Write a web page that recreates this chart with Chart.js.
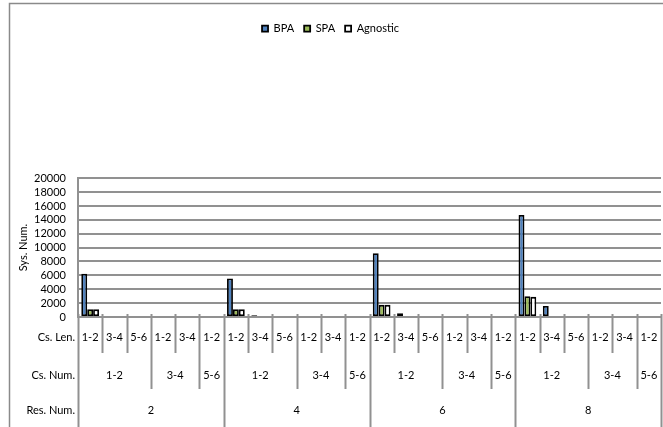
<!DOCTYPE html>
<html>
<head>
<meta charset="utf-8">
<script src="https://cdn.jsdelivr.net/npm/chart.js@4.4.1/dist/chart.umd.min.js"></script>
<style>
  body { margin: 0; background: #fff; }
  #wrap { width: 663px; height: 427px; }
</style>
</head>
<body>
<div id="wrap"><canvas id="myChart" width="663" height="427"></canvas></div>
<script>
// Category levels (innermost to outermost)
const resNums = ['2', '4', '6', '8'];
const csNumGroups = [['1-2', 3], ['3-4', 2], ['5-6', 1]]; // label, number of Cs. Len. entries
const csLens = ['1-2', '3-4', '5-6', '1-2', '3-4', '1-2'];

// Series values
const bpa = [6250, 150, 30, 20, 0, 0, 5550, 250, 30, 20, 0, 0, 9200, 530, 40, 0, 0, 0, 14700, 1600, 100, 0, 0, 0];
const spa = [1100, 40, 20, 10, 0, 0, 1100, 50, 20, 10, 0, 0, 1750, 100, 20, 0, 0, 0, 3000, 50, 30, 0, 0, 0];
const agnostic = [1100, 40, 20, 10, 0, 0, 1100, 50, 20, 10, 0, 0, 1750, 100, 20, 0, 0, 0, 2900, 50, 30, 0, 0, 0];

const yTicks = [0, 2000, 4000, 6000, 8000, 10000, 12000, 14000, 16000, 18000, 20000];

const labels = [];
resNums.forEach(() => csLens.forEach(l => labels.push(l)));

const FONT = 'Lato';
const gridGray = '#919191';

Chart.defaults.font.family = FONT;
Chart.defaults.font.size = 11;
Chart.defaults.color = '#000';

// draws the outer frame and the three-row category axis under the plot
const groupAxis = {
    id: 'groupAxis',
    afterDraw(chart) {
        const ctx = chart.ctx;
        const x = chart.scales.x;
        const area = chart.chartArea;
        const n = labels.length;
        const step = (area.right - area.left) / n;
        const perRes = csLens.length;
        const bottom = area.bottom;

        ctx.save();
        // outer frame
        ctx.strokeStyle = '#8a8a8a';
        ctx.lineWidth = 1.5;
        ctx.strokeRect(9.5, 3.5, 720, 500);

        // x axis line
        ctx.strokeStyle = gridGray;
        ctx.lineWidth = 2;
        ctx.beginPath();
        ctx.moveTo(area.left, bottom);
        ctx.lineTo(area.right, bottom);
        ctx.stroke();

        // group boundaries inside one Res. Num. block
        const numBounds = [0];
        let acc = 0;
        csNumGroups.forEach(g => { acc += g[1]; numBounds.push(acc); });

        for (let i = 0; i <= n; i++) {
            const px = Math.round(x.getPixelForValue(i) - step / 2) + 0.5;
            const k = i % perRes;
            let end = bottom + 36;
            if (numBounds.includes(k)) end = bottom + 72;
            if (k === 0) end = 427;
            ctx.beginPath();
            ctx.moveTo(px, bottom - 3);
            ctx.lineTo(px, end);
            ctx.stroke();
        }

        ctx.fillStyle = '#000';
        ctx.font = '11px ' + FONT;
        ctx.textAlign = 'center';
        ctx.textBaseline = 'middle';

        // Cs. Len. row
        labels.forEach((l, i) => {
            ctx.fillText(l, x.getPixelForValue(i), bottom + 20);
        });
        // Cs. Num. row
        resNums.forEach((r, ri) => {
            let start = ri * perRes;
            csNumGroups.forEach(g => {
                const a = x.getPixelForValue(start) - step / 2;
                const b = x.getPixelForValue(start + g[1] - 1) + step / 2;
                ctx.fillText(g[0], (a + b) / 2, bottom + 58);
                start += g[1];
            });
            const a = x.getPixelForValue(ri * perRes) - step / 2;
            const b = x.getPixelForValue(ri * perRes + perRes - 1) + step / 2;
            ctx.fillText(r, (a + b) / 2, bottom + 93);
        });

        // row titles
        ctx.textAlign = 'right';
        ctx.fillText('Cs. Len.', area.left - 3, bottom + 20);
        ctx.fillText('Cs. Num.', area.left - 3, bottom + 58);
        ctx.fillText('Res. Num.', area.left - 3, bottom + 93);
        ctx.restore();
    }
};

const ctx = document.getElementById('myChart').getContext('2d');

const barStyle = {
    borderColor: '#000',
    borderWidth: 1.8,
    borderSkipped: false,
    categoryPercentage: 0.73,
    barPercentage: 1
};

const myChart = new Chart(ctx, {
    type: 'bar',
    data: {
        labels: labels,
        datasets: [
            { label: 'BPA', data: bpa, backgroundColor: '#4F81BD', ...barStyle },
            { label: 'SPA', data: spa, backgroundColor: '#9BBB59', ...barStyle },
            { label: 'Agnostic', data: agnostic, backgroundColor: '#FFFFFF', ...barStyle }
        ]
    },
    plugins: [groupAxis],
    options: {
        responsive: false,
        animation: false,
        layout: { padding: { left: 0, right: 2, top: 0, bottom: 110 } },
        plugins: {
            legend: {
                display: true,
                position: 'top',
                // blank title only pushes the legend row down
                title: { display: true, text: ' ', padding: 0, font: { size: 11 } },
                labels: {
                    boxWidth: 6,
                    boxHeight: 6,
                    padding: 10,
                    color: '#000',
                    font: { size: 11, family: FONT }
                }
            },
            tooltip: { enabled: false }
        },
        scales: {
            x: {
                display: false
            },
            xTop: {
                // empty spacer between the legend and the plot
                type: 'category',
                position: 'top',
                display: true,
                grid: { display: false, drawTicks: false },
                border: { display: false },
                ticks: { display: false },
                afterFit: s => { s.height = 134; }
            },
            y: {
                min: 0,
                max: 20000,
                afterFit: s => { s.width = 78; },
                afterBuildTicks: s => { s.ticks = yTicks.map(v => ({ value: v })); },
                ticks: {
                    autoSkip: false,
                    padding: 12,
                    font: { size: 11, family: FONT },
                    color: '#000',
                    callback: v => String(v)
                },
                grid: {
                    color: gridGray,
                    lineWidth: 2,
                    drawTicks: false
                },
                border: { display: true, color: gridGray, width: 2 },
                title: {
                    display: true,
                    text: 'Sys. Num.',
                    font: { size: 11, family: FONT },
                    color: '#000',
                    padding: { top: 17, bottom: 0 }
                }
            }
        }
    }
});
</script>
</body>
</html>
